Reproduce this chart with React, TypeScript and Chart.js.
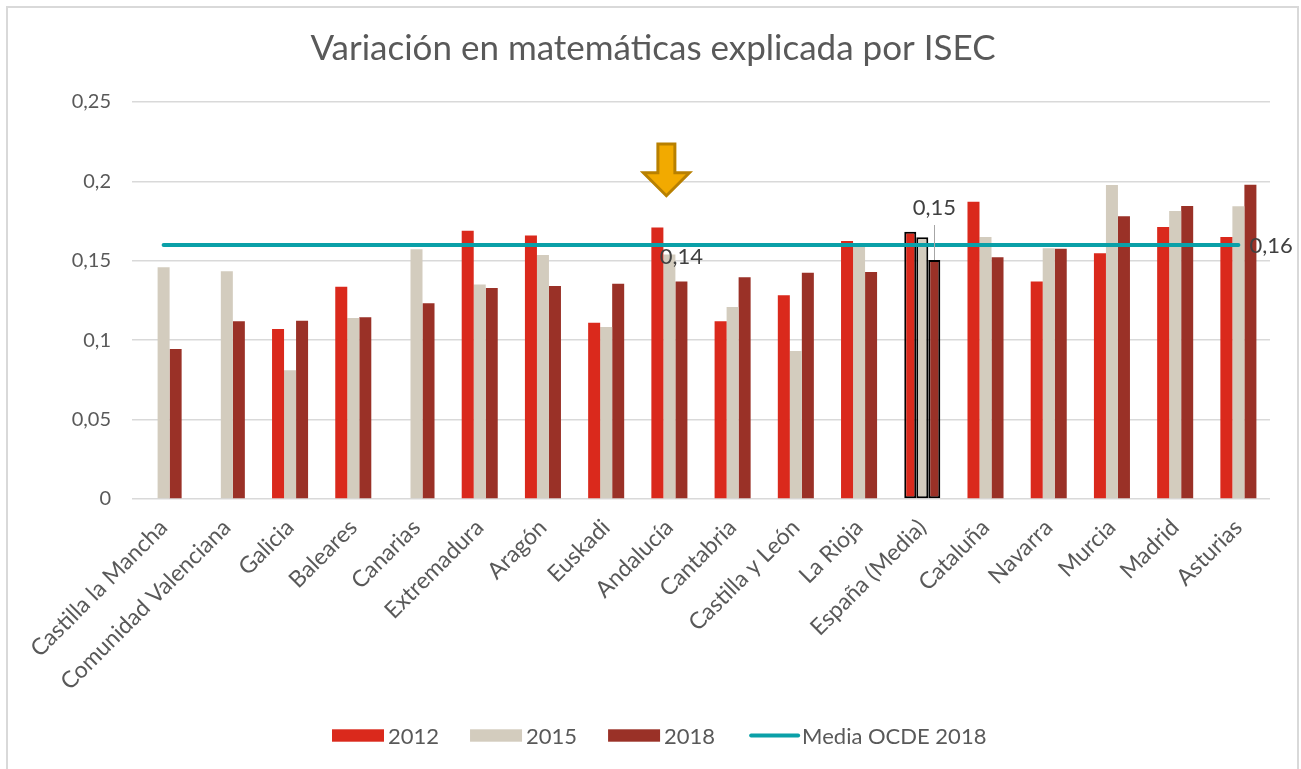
import React, { useEffect, useRef } from 'react';
import { Chart, registerables } from 'chart.js';

Chart.register(...registerables);

const categories = [
  'Castilla la Mancha', 'Comunidad Valenciana', 'Galicia', 'Baleares', 'Canarias',
  'Extremadura', 'Aragón', 'Euskadi', 'Andalucía', 'Cantabria', 'Castilla y León',
  'La Rioja', 'España (Media)', 'Cataluña', 'Navarra', 'Murcia', 'Madrid', 'Asturias',
];

const series2012 = [
  null, null, 0.107, 0.1337, null, 0.169, 0.166, 0.111, 0.1709, 0.1119, 0.1283,
  0.1625, 0.1683, 0.1872, 0.1369, 0.1547, 0.1713, 0.165,
];

const series2015 = [
  0.1459, 0.1434, 0.081, 0.114, 0.1572, 0.135, 0.1536, 0.1083, 0.154, 0.1209, 0.0932,
  0.159, 0.1648, 0.165, 0.1579, 0.1977, 0.1814, 0.1843,
];

const series2018 = [
  0.0945, 0.1119, 0.1123, 0.1144, 0.1232, 0.1329, 0.1341, 0.1356, 0.137, 0.1396, 0.1425,
  0.1429, 0.1505, 0.1522, 0.1576, 0.178, 0.1845, 0.1979,
];

const mediaOcde2018 = [
  0.16, 0.16, 0.16, 0.16, 0.16, 0.16, 0.16, 0.16, 0.16, 0.16, 0.16,
  0.16, 0.16, 0.16, 0.16, 0.16, 0.16, 0.16,
];

const yTickValues = [0, 0.05, 0.1, 0.15, 0.2, 0.25];

const seriesLabels = ['2012', '2015', '2018', 'Media OCDE 2018'];
const titleText = 'Variación en matemáticas explicada por ISEC';

// annotations: [datasetIndex, dataIndex, text]
const valueLabels: [number, number, string][] = [
  [2, 8, '0,14'],
  [2, 12, '0,15'],
  [3, 17, '0,16'],
];
const highlightIndex = 12;
const arrowIndex = 8;

const RED = '#da291c';
const BEIGE = '#d3ccbe';
const DARK = '#9a3127';
const TEAL = '#0aa0a8';
const TEXT = '#595959';
const FONT = 'Lato, "Open Sans", sans-serif';

function fmt(v: number) {
  return String(Number(v.toFixed(2))).replace('.', ',');
}

const overlayPlugin = {
  id: 'overlay',
  afterDatasetsDraw(chart: any) {
    const ctx = chart.ctx as CanvasRenderingContext2D;
    const xs = chart.scales.x;
    const ys = chart.scales.y;
    ctx.save();

    // title
    ctx.font = `35px ${FONT}`;
    ctx.fillStyle = TEXT;
    ctx.textAlign = 'center';
    ctx.textBaseline = 'alphabetic';
    ctx.fillText(titleText, 653, 60);

    // value labels
    ctx.font = `22px ${FONT}`;
    ctx.fillStyle = '#404040';
    ctx.textBaseline = 'middle';
    for (const [ds, idx, text] of valueLabels) {
      const el = chart.getDatasetMeta(ds).data[idx];
      if (!el) continue;
      if (ds === 3) {
        ctx.textAlign = 'left';
        ctx.fillText(text, el.x + 11, el.y + 1);
      } else if (idx === highlightIndex) {
        ctx.textAlign = 'center';
        ctx.fillText(text, el.x, el.y - 52);
        ctx.strokeStyle = '#a6a6a6';
        ctx.lineWidth = 1;
        ctx.beginPath();
        ctx.moveTo(Math.round(el.x) + 0.5, el.y - 35);
        ctx.lineTo(Math.round(el.x) + 0.5, el.y);
        ctx.stroke();
      } else {
        ctx.textAlign = 'center';
        ctx.fillText(text, el.x, el.y - 25);
      }
    }

    // arrow
    const ax = xs.getPixelForValue(arrowIndex) - 3;
    const top = ys.getPixelForValue(0.2235);
    const tip = ys.getPixelForValue(0.191);
    const headTop = tip - 23;
    ctx.beginPath();
    ctx.moveTo(ax - 8.5, top);
    ctx.lineTo(ax + 8.5, top);
    ctx.lineTo(ax + 8.5, headTop);
    ctx.lineTo(ax + 23, headTop);
    ctx.lineTo(ax, tip);
    ctx.lineTo(ax - 23, headTop);
    ctx.lineTo(ax - 8.5, headTop);
    ctx.closePath();
    ctx.fillStyle = '#f2aa00';
    ctx.fill();
    ctx.strokeStyle = '#b88000';
    ctx.lineWidth = 3;
    ctx.lineJoin = 'miter';
    ctx.stroke();

    // legend
    ctx.font = `22px ${FONT}`;
    ctx.fillStyle = TEXT;
    ctx.textAlign = 'left';
    ctx.textBaseline = 'middle';
    const colors = [RED, BEIGE, DARK, TEAL];
    let x = 332;
    const cy = 735.5;
    seriesLabels.forEach((label, i) => {
      if (i < 3) {
        ctx.fillStyle = colors[i];
        ctx.fillRect(x, cy - 6.2, 52, 12.4);
      } else {
        ctx.strokeStyle = TEAL;
        ctx.lineWidth = 4;
        ctx.lineCap = 'round';
        ctx.beginPath();
        ctx.moveTo(x + 5, cy);
        ctx.lineTo(x + 52, cy);
        ctx.stroke();
      }
      x += 56;
      ctx.fillStyle = TEXT;
      ctx.fillText(label, x, cy + 1);
      x += ctx.measureText(label).width + 31;
    });

    ctx.restore();
  },
};

export default function App() {
  const ref = useRef<HTMLCanvasElement | null>(null);

  useEffect(() => {
    if (!ref.current) return;
    Chart.defaults.font.family = FONT;
    const barCommon = {
      borderColor: '#000000',
      borderWidth: (c: any) => (c.dataIndex === highlightIndex ? 2 : 0),
      borderSkipped: false,
      order: 1,
      categoryPercentage: 0.57,
      barPercentage: 1,
    };
    const chart = new Chart(ref.current, {
      type: 'bar',
      data: {
        labels: categories,
        datasets: [
          { ...barCommon, label: seriesLabels[0], data: series2012, backgroundColor: RED } as any,
          { ...barCommon, label: seriesLabels[1], data: series2015, backgroundColor: BEIGE } as any,
          { ...barCommon, label: seriesLabels[2], data: series2018, backgroundColor: DARK } as any,
          {
            type: 'line',
            label: seriesLabels[3],
            data: mediaOcde2018,
            borderColor: TEAL,
            backgroundColor: TEAL,
            borderWidth: 4,
            pointRadius: 0,
            borderCapStyle: 'round',
            fill: false,
            order: 0,
          } as any,
        ],
      },
      options: {
        responsive: false,
        animation: false,
        events: [],
        layout: { padding: { top: 102, right: 31, left: 0, bottom: 0 } },
        plugins: {
          legend: { display: false },
          title: { display: false },
          tooltip: { enabled: false },
        },
        scales: {
          x: {
            grid: { display: false, drawTicks: false },
            border: { display: false },
            ticks: {
              autoSkip: false,
              maxRotation: 45,
              minRotation: 45,
              padding: 15,
              color: TEXT,
              font: { size: 23, family: FONT },
            },
            afterFit: (s: any) => {
              s.height = 270;
            },
          },
          y: {
            min: 0,
            max: 0.25,
            afterBuildTicks: (s: any) => {
              s.ticks = yTickValues.map((v) => ({ value: v }));
            },
            ticks: {
              padding: 21,
              color: TEXT,
              font: { size: 20, family: FONT },
              callback: (v: any) => fmt(Number(v)),
            },
            grid: { color: '#d9d9d9', lineWidth: 1.5, drawTicks: false },
            border: { display: false },
            afterFit: (s: any) => {
              s.width = 132;
            },
          },
        },
      } as any,
      plugins: [overlayPlugin],
    });
    return () => chart.destroy();
  }, []);

  return (
    <div
      style={{
        position: 'fixed',
        left: 0,
        top: 0,
        width: 1301,
        height: 769,
        background: '#ffffff',
        overflow: 'hidden',
      }}
    >
      <div
        style={{
          position: 'absolute',
          left: 5.5,
          top: 5.5,
          width: 1293,
          height: 800,
          border: '2px solid #d9d9d9',
          boxSizing: 'border-box',
        }}
      />
      <canvas
        ref={ref}
        width={1301}
        height={769}
        style={{ position: 'absolute', left: 0, top: 0, width: 1301, height: 769 }}
      />
    </div>
  );
}
